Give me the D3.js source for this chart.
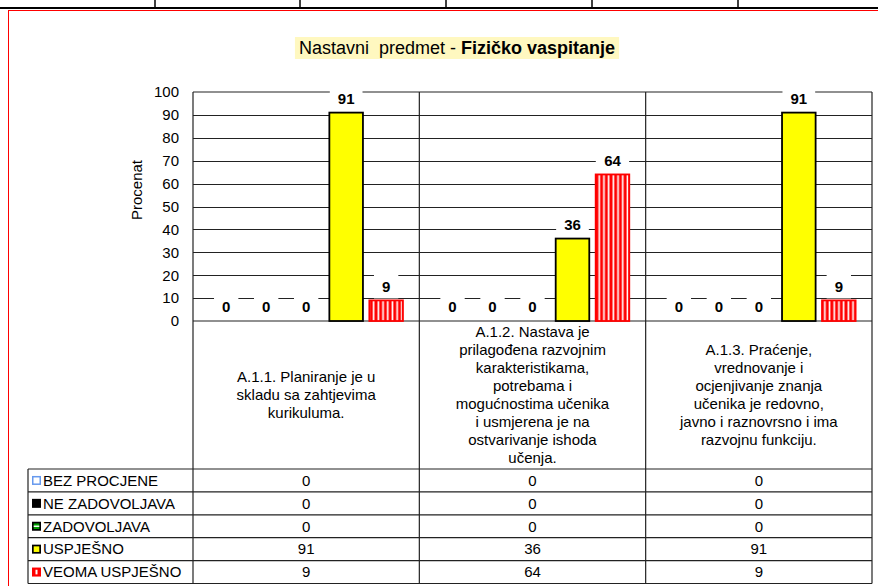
<!DOCTYPE html>
<meta charset="UTF-8">
<style>
  body { margin: 0; background: #fff; }
  text { font-family: "Liberation Sans", Arial, sans-serif; fill: #000; }
</style>
<svg width="878" height="586"></svg>
<script src="https://cdn.jsdelivr.net/npm/d3@7/dist/d3.min.js"></script>
<script>

// data
var categories = [
  ["A.1.1. Planiranje je u", "skladu sa zahtjevima", "kurikuluma."],
  ["A.1.2. Nastava je", "prilagođena razvojnim", "karakteristikama,", "potrebama i", "mogućnostima učenika", "i usmjerena je na", "ostvarivanje ishoda", "učenja."],
  ["A.1.3. Praćenje,", "vrednovanje i", "ocjenjivanje znanja", "učenika je redovno,", "javno i raznovrsno i ima", "razvojnu funkciju."]
];
var series = ["BEZ PROCJENE", "NE ZADOVOLJAVA", "ZADOVOLJAVA", "USPJEŠNO", "VEOMA USPJEŠNO"];
var bezProcjene   = [0, 0, 0];
var neZadovoljava = [0, 0, 0];
var zadovoljava   = [0, 0, 0];
var uspjesno      = [91, 36, 91];
var veomaUspjesno = [9, 64, 9];
var yTicks = [0, 10, 20, 30, 40, 50, 60, 70, 80, 90, 100];

var values = [bezProcjene, neZadovoljava, zadovoljava, uspjesno, veomaUspjesno];

var svg = d3.select("svg");

var plotLeft = 193, plotRight = 872, plotTop = 92, plotBottom = 321;
var tableTop = 469, rowH = 22.9, tableLeft = 28;
var tableBottom = tableTop + rowH * series.length;

var y = d3.scaleLinear().domain([0, 100]).range([plotBottom, plotTop]);
var x0 = d3.scaleBand().domain(d3.range(categories.length)).range([plotLeft, plotRight]);
var x1 = d3.scaleBand().domain(series).range([0, x0.bandwidth()])
    .paddingInner(0.16).paddingOuter(0.41);

// patterns
var defs = svg.append("defs");
var pRed = defs.append("pattern").attr("id", "redStripe")
    .attr("patternUnits", "userSpaceOnUse").attr("width", 4.7).attr("height", 10);
pRed.append("rect").attr("width", 4.7).attr("height", 10).attr("fill", "#ff0000");
pRed.append("rect").attr("x", 1.5).attr("width", 1.7).attr("height", 10).attr("fill", "#fff");

var fills = ["#fff", "#000", "#00a000", "#ffff00", "url(#redStripe)"];
var strokes = ["#6699ee", "#000", "#000", "#000", "#ff0000"];

// page decorations
svg.append("line").attr("x1", 0).attr("x2", 878).attr("y1", 8).attr("y2", 8)
    .attr("stroke", "#000").attr("stroke-width", 2);
[155, 300, 446, 592, 738].forEach(function(xx) {
  svg.append("line").attr("x1", xx).attr("x2", xx).attr("y1", 0).attr("y2", 8)
      .attr("stroke", "#000").attr("stroke-width", 1.5);
});
svg.append("line").attr("x1", 8).attr("x2", 878).attr("y1", 10.5).attr("y2", 10.5)
    .attr("stroke", "#ff0000").attr("stroke-width", 1);
svg.append("line").attr("x1", 8.5).attr("x2", 8.5).attr("y1", 10).attr("y2", 586)
    .attr("stroke", "#ff0000").attr("stroke-width", 1);

// title
var title = svg.append("text").attr("x", 457).attr("y", 54)
    .attr("text-anchor", "middle").style("font-size", "18px");
title.append("tspan").text("Nastavni  predmet - ").style("white-space", "pre");
title.append("tspan").attr("font-weight", "bold").text("Fizičko vaspitanje");
var tb = title.node().getBBox();
svg.insert("rect", "text").attr("x", tb.x - 4).attr("y", 37)
    .attr("width", tb.width + 8).attr("height", 22).attr("fill", "#fff8c0");

// gridlines
svg.append("g").selectAll("line").data(yTicks.slice(1, -1)).join("line")
    .attr("x1", plotLeft).attr("x2", plotRight)
    .attr("y1", function(d) { return Math.round(y(d)) + 0.5; })
    .attr("y2", function(d) { return Math.round(y(d)) + 0.5; })
    .attr("stroke", "#222").attr("stroke-width", 1);

// y axis
var yAxis = svg.append("g").attr("transform", "translate(" + plotLeft + ",0)")
    .call(d3.axisLeft(y).tickValues(yTicks).tickSize(0).tickPadding(14));
yAxis.select(".domain").remove();
yAxis.selectAll("text").style("font-size", "15px").attr("fill", "#000")
    .style("font-family", "'Liberation Sans', Arial, sans-serif");

svg.append("text").attr("transform", "translate(142,190) rotate(-90)")
    .attr("text-anchor", "middle").style("font-size", "15px").text("Procenat");

// frame: plot border, category dividers, table lines
var frame = svg.append("g").attr("stroke", "#222").attr("stroke-width", 1.2).attr("fill", "none");
frame.append("line").attr("x1", plotLeft).attr("x2", plotRight).attr("y1", plotTop).attr("y2", plotTop);
frame.append("line").attr("x1", plotLeft).attr("x2", plotRight).attr("y1", plotBottom).attr("y2", plotBottom);
d3.range(categories.length + 1).forEach(function(i) {
  var xx = i < categories.length ? x0(i) : plotRight;
  frame.append("line").attr("x1", xx).attr("x2", xx).attr("y1", plotTop).attr("y2", tableBottom);
});
d3.range(series.length + 1).forEach(function(i) {
  var yy = tableTop + i * rowH;
  frame.append("line").attr("x1", tableLeft).attr("x2", plotRight).attr("y1", yy).attr("y2", yy);
});
frame.append("line").attr("x1", tableLeft).attr("x2", tableLeft).attr("y1", tableTop).attr("y2", tableBottom);

// bars
var bars = [];
values.forEach(function(vals, s) {
  vals.forEach(function(v, c) { bars.push({s: s, c: c, v: v}); });
});
svg.append("g").selectAll("rect").data(bars.filter(function(d) { return d.v > 0; })).join("rect")
    .attr("x", function(d) { return x0(d.c) + x1(series[d.s]); })
    .attr("y", function(d) { return y(d.v); })
    .attr("width", x1.bandwidth())
    .attr("height", function(d) { return plotBottom - y(d.v); })
    .attr("fill", function(d) { return fills[d.s]; })
    .attr("stroke", function(d) { return strokes[d.s]; })
    .attr("stroke-width", 1.8);

// value labels with white boxes
var lab = svg.append("g").selectAll("g").data(bars).join("g")
    .attr("transform", function(d) {
      return "translate(" + (x0(d.c) + x1(series[d.s]) + x1.bandwidth() / 2) + "," + (y(d.v) - 14) + ")";
    });
lab.append("rect").attr("fill", "#fff");
lab.append("text").attr("text-anchor", "middle").attr("dy", "0.35em")
    .attr("font-weight", "bold").style("font-size", "15px")
    .text(function(d) { return d.v; });
lab.each(function() {
  var g = d3.select(this), w = g.select("text").node().getBBox().width + 16;
  g.select("rect").attr("x", -w / 2).attr("y", -12).attr("width", w).attr("height", 24);
});

// category labels
var catMid = (plotBottom + tableTop) / 2, lineH = 18;
categories.forEach(function(lines, c) {
  var t = svg.append("text").attr("text-anchor", "middle").style("font-size", "15px");
  lines.forEach(function(l, i) {
    t.append("tspan").attr("x", x0(c) + x0.bandwidth() / 2)
        .attr("y", catMid + (i - (lines.length - 1) / 2) * lineH)
        .attr("dy", "0.35em").text(l);
  });
});

// data table
series.forEach(function(name, s) {
  var cy = tableTop + s * rowH + rowH / 2;
  var k = svg.append("g").attr("transform", "translate(32," + (cy - 4.5) + ")");
  if (s === 0) {
    k.append("rect").attr("x", 0.75).attr("y", 0.75).attr("width", 7.5).attr("height", 7.5)
        .attr("fill", "#fff").attr("stroke", "#6699ee").attr("stroke-width", 1.5);
  } else if (s === 1) {
    k.append("rect").attr("width", 9).attr("height", 9).attr("fill", "#000");
  } else if (s === 2) {
    k.append("rect").attr("width", 9).attr("height", 9).attr("fill", "#000");
    k.append("rect").attr("x", 1.7).attr("y", 1.7).attr("width", 5.6).attr("height", 5.6).attr("fill", "#00a000");
    k.append("rect").attr("x", 1.7).attr("y", 3.8).attr("width", 5.6).attr("height", 1.4).attr("fill", "#fff");
  } else if (s === 3) {
    k.append("rect").attr("width", 9).attr("height", 9).attr("fill", "#000");
    k.append("rect").attr("x", 1.7).attr("y", 1.7).attr("width", 5.6).attr("height", 5.6).attr("fill", "#ffff00");
  } else {
    k.append("rect").attr("width", 9).attr("height", 9).attr("fill", "#ff0000");
    k.append("rect").attr("x", 3.5).attr("y", 2.2).attr("width", 2).attr("height", 4.6).attr("fill", "#fff");
  }
  svg.append("text").attr("x", 43).attr("y", cy).attr("dy", "0.35em")
      .style("font-size", "15px").text(name);
  values[s].forEach(function(v, c) {
    svg.append("text").attr("x", x0(c) + x0.bandwidth() / 2).attr("y", cy).attr("dy", "0.35em")
        .attr("text-anchor", "middle").style("font-size", "15px").text(v);
  });
});
</script>
